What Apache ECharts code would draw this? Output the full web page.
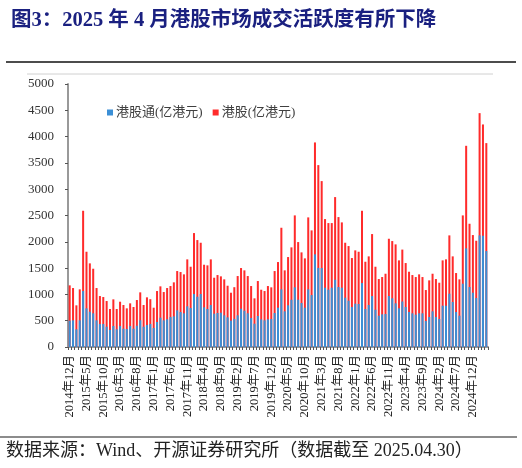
<!DOCTYPE html>
<html>
<head>
<meta charset="utf-8">
<script src="https://cdn.jsdelivr.net/npm/echarts@6/dist/echarts.min.js"></script>
<style>
    html, body { margin: 0; padding: 0; background: #fff; }
    #chart { width: 522px; height: 468px; }
</style>
</head>
<body>
<div id="chart"></div>
<script>
//月份 2014年12月 ~ 2025年4月
var months = [];
(function() {
    var y = 2014, m = 12;
    while (y < 2025 || (y == 2025 && m <= 4)) {
        months.push(y + '年' + m + '月');
        m++;
        if (m > 12) { m = 1; y++; }
    }
})();

//港股通(亿港元)
var hkConnect = [
    500, 507, 336, 507, 1064, 735, 671, 640, 507, 437, 437, 386, 323, 399, 336, 399, 348, 342, 399, 348, 405, 507, 386, 418, 437,
    361, 475, 557, 507, 526, 570, 583, 697, 665, 640, 773, 741, 1007, 956, 1007, 754, 722, 798, 633, 646, 652, 602, 563, 500, 535,
    602, 728, 690, 640, 551, 443, 589, 526, 507, 526, 532, 646, 747, 1096, 678, 792, 899, 1134, 899, 836, 747, 1096, 988, 1761, 1504,
    1501, 1127, 1089, 1127, 1279, 1140, 1127, 937, 880, 760, 823, 817, 1216, 722, 798, 969, 709, 595, 621, 627, 969, 925, 830, 735, 865,
    760, 665, 640, 614, 640, 640, 494, 570, 678, 570, 532, 785, 785, 1013, 855, 665, 595, 1203, 1875, 1140, 1032, 931, 2122, 2115, 1824
];

//港股(亿港元)
var hkMarket = [
    1172, 1121, 792, 1096, 2590, 1811, 1590, 1488, 1121, 969, 950, 874, 722, 906, 722, 861, 798, 735, 830, 760, 893, 1039, 798, 944, 909,
    747, 1064, 1153, 1045, 1121, 1159, 1229, 1444, 1425, 1381, 1666, 1526, 2166, 2033, 1982, 1564, 1552, 1666, 1317, 1368, 1343, 1286, 1165, 1032, 1137,
    1349, 1501, 1457, 1349, 1159, 925, 1254, 1089, 1064, 1159, 1134, 1444, 1615, 2267, 1457, 1710, 1894, 2502, 1995, 1799, 1685, 2464, 2217, 3889, 3458,
    3154, 2432, 2356, 2356, 2850, 2470, 2369, 1982, 1919, 1691, 1837, 1811, 2590, 1621, 1723, 2147, 1526, 1292, 1330, 1393, 2058, 2014, 1951, 1647, 1852,
    1596, 1431, 1368, 1330, 1381, 1330, 1083, 1267, 1393, 1292, 1222, 1647, 1666, 2122, 1723, 1406, 1286, 2502, 3825, 2343, 2128, 2020, 4446, 4231, 3876
];

var serif = "'Liberation Serif', 'Noto Sans CJK SC', serif";

var chart = echarts.init(document.getElementById('chart'), null, { renderer: 'canvas' });

chart.setOption({
    animation: false,
    backgroundColor: '#fff',
    title: {
        text: '图3：2025 年 4 月港股市场成交活跃度有所下降',
        left: 6,
        top: 5,
        textStyle: {
            color: '#1a2080',
            fontSize: 20.5,
            fontWeight: 'bold',
            fontFamily: serif
        }
    },
    legend: {
        left: 102,
        top: 101,
        itemWidth: 6,
        itemHeight: 6,
        itemGap: 10,
        icon: 'rect',
        textStyle: { fontSize: 13, color: '#404040', fontFamily: serif, padding: [0, 0, 0, -2] },
        data: ['港股通(亿港元)', '港股(亿港元)']
    },
    grid: { left: 68, right: 34, top: 84, bottom: 121 },
    xAxis: {
        type: 'category',
        data: months,
        axisLine: { lineStyle: { color: '#999', width: 2 } },
        axisTick: { show: true, interval: 0, length: 3, lineStyle: { color: '#555' } },
        axisLabel: {
            interval: 4,
            rotate: 90,
            margin: 8,
            fontSize: 12.5,
            color: '#222',
            fontFamily: serif
        }
    },
    yAxis: {
        type: 'value',
        min: 0,
        max: 5000,
        interval: 500,
        splitLine: { show: false },
        axisLine: { show: true, lineStyle: { color: '#999', width: 2 } },
        axisTick: { show: true, length: 3, lineStyle: { color: '#555' } },
        axisLabel: {
            fontSize: 13,
            color: '#333',
            margin: 14,
            fontFamily: serif,
            formatter: function(v) {
                return String(v); //不要千分位
            }
        }
    },
    series: [{
        name: '港股通(亿港元)',
        type: 'bar',
        z: 3,
        data: hkConnect,
        barWidth: '60%',
        barGap: '-100%',
        itemStyle: { color: '#3b8fd6' }
    }, {
        name: '港股(亿港元)',
        type: 'bar',
        z: 2,
        data: hkMarket,
        barWidth: '60%',
        barGap: '-100%',
        itemStyle: { color: '#ff2b2b' }
    }],
    graphic: [{
        //标题下横线
        type: 'line',
        shape: { x1: 6, y1: 62, x2: 516, y2: 62 },
        style: { stroke: '#111', lineWidth: 1.5 }
    }, {
        type: 'line',
        shape: { x1: 27, y1: 74, x2: 493, y2: 74 },
        style: { stroke: '#d0d0d0', lineWidth: 1 }
    }, {
        type: 'line',
        shape: { x1: 0, y1: 437, x2: 517, y2: 437 },
        style: { stroke: '#666', lineWidth: 1.5 }
    }, {
        //数据来源
        type: 'text',
        left: 6,
        top: 442,
        style: {
            text: '数据来源：Wind、开源证券研究所（数据截至 2025.04.30）',
            fill: '#222',
            font: "18px 'Liberation Serif', 'Noto Sans CJK SC', serif"
        }
    }]
});
</script>
</body>
</html>
